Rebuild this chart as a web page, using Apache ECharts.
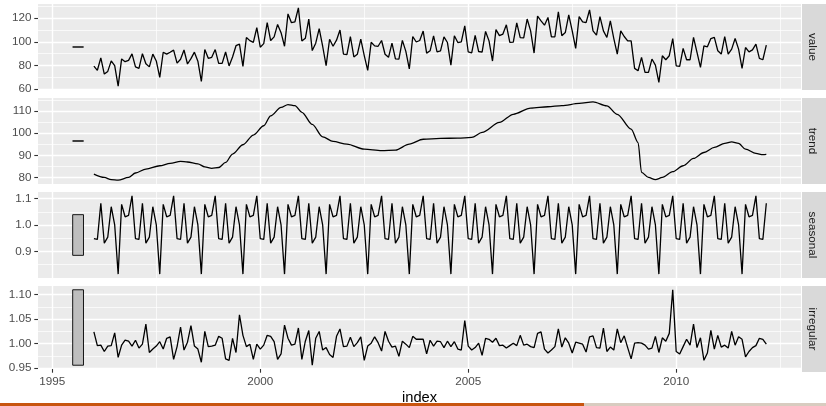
<!DOCTYPE html>
<html>
<head>
<meta charset="utf-8">
<script src="https://cdn.jsdelivr.net/npm/echarts@6/dist/echarts.min.js"></script>
<style>
  html, body { margin: 0; padding: 0; background: #fff; }
  #chart { width: 826px; height: 406px; }
</style>
</head>
<body>
<div id="chart"></div>
<script>
/* ------------------------------------------------------------
 * Monthly decomposition: value / trend / seasonal / irregular
 * series runs Jan 1996 - Mar 2012
------------------------------------------------------------ */
const startYear = 1996

// observed series
const value = [
  79.43, 75.86, 86.40, 72.67, 74.93, 83.88, 79.88, 62.47, 85.50, 83.19, 84.29, 89.79,
  78.72, 77.49, 89.94, 81.35, 78.76, 89.59, 83.75, 69.87, 91.18, 89.52, 91.12, 92.97,
  81.97, 85.26, 93.09, 81.19, 85.74, 91.24, 83.56, 66.45, 93.45, 86.03, 86.91, 93.42,
  81.68, 81.68, 91.35, 79.55, 87.08, 96.71, 98.10, 79.22, 103.68, 101.00, 99.52, 111.94,
  95.42, 98.49, 116.37, 101.09, 104.20, 114.79, 107.75, 96.23, 123.65, 116.24, 117.00, 128.75,
  100.69, 102.99, 119.21, 92.56, 98.86, 111.26, 96.25, 79.81, 102.18, 96.28, 101.38, 109.97,
  89.66, 89.23, 104.36, 87.17, 89.43, 102.25, 88.26, 75.73, 99.60, 96.57, 96.22, 101.12,
  89.45, 86.87, 98.94, 85.62, 85.31, 101.22, 91.93, 77.01, 104.50, 99.83, 101.10, 109.16,
  90.4, 92.4, 105.1, 91.5, 92.4, 104.2, 99.4, 80.3, 105.1, 99.4, 100.0, 113.5,
  91.4, 90.7, 105.5, 91.8, 91.2, 108.8, 100.8, 83.7, 110.4, 105.3, 106.6, 114.4,
  99.5, 99.8, 116.0, 103.5, 103.4, 119.3, 109.3, 90.5, 121.8, 117.7, 114.1, 120.7,
  104.2, 104.3, 125.4, 105.2, 107.9, 122.9, 109.3, 94.4, 121.4, 116.9, 116.3, 127.0,
  109.3, 105.6, 121.4, 109.3, 103.7, 117.7, 102.8, 89.6, 109.3, 104.5, 100.8, 100.8,
  77.5, 75.5, 86.8, 74.1, 74.1, 85.4, 80.3, 65.6, 88.2, 84.8, 88.2, 102.8,
  79.7, 79.2, 94.4, 84.8, 84.8, 103.7, 91.0, 78.3, 96.6, 95.8, 102.8, 103.7,
  92.4, 89.6, 104.5, 89.6, 93.8, 102.8, 93.8, 77.5, 95.2, 91.5, 93.2, 98.0,
  85.9, 84.8, 97.2
]

// trend, read at selected months (month index from Jan 1996)
const trendMonth = [
  0, 3, 5, 7, 10, 12, 15, 19, 22, 25, 27, 30, 32, 34, 36, 38, 40, 43, 46, 49,
  51, 54, 56, 58, 60, 63, 66, 69, 73, 78, 83, 87, 91, 95, 100, 105, 109, 112, 117, 121,
  126, 131, 135, 140, 144, 148, 151, 155, 157, 158, 160, 162, 164, 167, 170, 173, 176, 179, 182, 184,
  186, 188, 191, 193, 194
]
const trendValue = [
  81.5, 80.0, 79.0, 78.8, 80.0, 82.0, 83.8, 85.3, 86.4, 87.3, 87.0, 86.1, 84.8, 84.1, 84.5, 86.8, 90.6, 94.8, 99.2, 103.4,
  107.9, 111.7, 113.0, 112.5, 109.5, 104.0, 98.4, 96.3, 95.1, 92.8, 92.1, 92.4, 95.1, 97.3, 97.7, 97.8, 98.1, 100.4, 104.9, 108.6,
  111.4, 112.0, 112.5, 113.5, 114.2, 112.4, 108.6, 101.9, 95.8, 82.3, 80.0, 79.0, 80.0, 82.6, 85.3, 88.6, 91.3, 93.6, 95.4, 96.1,
  95.4, 92.8, 90.9, 90.3, 90.4
]

// seasonal factors Jan..Dec
const seasonalFactor = [0.948, 0.945, 1.082, 0.931, 0.954, 1.069, 1.000, 0.814, 1.078, 1.031, 1.036, 1.110]

// irregular component
const irregular = [
  1.024, 0.996, 0.997, 0.984, 0.995, 0.996, 1.022, 0.972, 0.997, 1.007, 1.005, 0.995,
  1.007, 0.991, 0.999, 1.040, 0.982, 0.989, 0.995, 1.004, 0.989, 1.011, 1.014, 0.968,
  0.994, 1.034, 0.987, 1.003, 1.037, 0.995, 0.989, 0.962, 1.025, 0.994, 0.995, 0.997,
  1.015, 1.011, 0.969, 0.966, 1.011, 0.982, 1.059, 1.017, 0.994, 0.999, 0.968, 0.999,
  0.989, 0.997, 1.017, 1.015, 1.004, 0.968, 0.979, 1.038, 1.011, 0.997, 0.999, 1.032,
  0.968, 1.005, 1.027, 0.956, 1.011, 1.025, 0.987, 0.992, 0.978, 0.972, 1.015, 1.030,
  0.994, 0.995, 1.013, 0.994, 1.002, 1.014, 0.966, 0.995, 1.001, 1.014, 1.002, 0.985,
  1.025, 1.005, 0.993, 0.995, 0.974, 1.005, 0.999, 0.992, 1.015, 1.009, 1.009, 1.009,
  0.979, 1.007, 0.995, 1.005, 1.004, 0.992, 1.005, 0.994, 1.004, 0.989, 0.987, 1.047,
  0.995, 0.987, 0.992, 1.001, 0.976, 1.011, 1.009, 1.003, 1.011, 0.996, 0.997, 0.991,
  0.996, 1.001, 0.996, 1.017, 0.997, 0.999, 0.994, 0.992, 1.021, 1.024, 0.989, 0.981,
  0.987, 0.994, 1.030, 0.993, 1.012, 1.001, 0.981, 1.003, 1.001, 0.999, 0.983, 1.014,
  1.016, 0.992, 0.991, 1.032, 0.984, 0.993, 0.987, 1.030, 1.002, 1.016, 0.992, 0.969,
  1.001, 1.002, 1.001, 0.997, 0.989, 0.991, 1.015, 0.982, 1.012, 1.005, 1.021, 1.110,
  0.984, 0.979, 0.994, 1.009, 0.997, 1.040, 0.992, 1.012, 0.966, 0.981, 1.027, 0.989,
  1.017, 0.993, 0.997, 0.991, 1.025, 0.997, 1.014, 1.009, 0.973, 0.984, 0.992, 0.996,
  1.011, 1.009, 0.999
]

// facet labels and tick labels
const panelNames = ['value', 'trend', 'seasonal', 'irregular']
const xTicks = [1995, 2000, 2005, 2010]
const yTicks = [
  [60, 80, 100, 120],
  [80, 90, 100, 110],
  [0.9, 1.0, 1.1],
  [0.95, 1.00, 1.05, 1.10]
]
const yDigits = [0, 0, 1, 2]

// range bar position (years)
const barLeft = 1995.49
const barRight = 1995.75

/* ---------------- derived series ---------------- */
const toYear = i => startYear + i / 12
const seriesData = [
  value.map((v, i) => [toYear(i), v]),
  trendMonth.map((m, i) => [toYear(m), trendValue[i]]),
  value.map((v, i) => [toYear(i), seasonalFactor[i % 12]]),
  irregular.map((v, i) => [toYear(i), v])
]

// ggplot style 5% expansion
const expand = (lo, hi) => {
  const pad = (hi - lo) * 0.05
  return [lo - pad, hi + pad]
}
const ranges = seriesData.map(d => {
  const ys = d.map(p => p[1])
  return [Math.min(...ys), Math.max(...ys)]
})
// all range bars share the length of the narrowest panel
const barHalf = Math.min(...ranges.map(r => r[1] - r[0])) / 2
const xExtent = expand(barLeft, toYear(value.length - 1))

/* ---------------- layout ---------------- */
const font = 'Liberation Sans, Arial, sans-serif'
const panelLeft = 38
const panelWidth = 763
const panelTop = [4, 98, 192, 286]
const panelHeight = 86
const splitNumbers = [4, 4, 3, 3]

const grids = []
const xAxes = []
const yAxes = []
const series = []
const graphics = []

panelNames.forEach((name, k) => {
  const isBottom = k === panelNames.length - 1
  const yExt = expand(ranges[k][0], ranges[k][1])
  const mid = (ranges[k][0] + ranges[k][1]) / 2

  grids.push({
    left: panelLeft, width: panelWidth, top: panelTop[k], height: panelHeight,
    show: true, backgroundColor: '#EBEBEB', borderWidth: 0
  })

  xAxes.push({
    gridIndex: k, type: 'value', min: xExtent[0], max: xExtent[1], splitNumber: 4,
    axisLine: { show: false },
    axisTick: { show: isBottom, length: 3.7, customValues: xTicks, lineStyle: { color: '#333333', width: 1.1 } },
    axisLabel: {
      show: isBottom, customValues: xTicks, color: '#4D4D4D', fontSize: 11.7, fontFamily: font, margin: 7,
      formatter: v => String(Math.round(v))
    },
    splitLine: { show: true, lineStyle: { color: '#FFFFFF', width: 1.4 } },
    minorTick: { show: false, splitNumber: 2 },
    minorSplitLine: { show: true, lineStyle: { color: '#FFFFFF', width: 0.7 } },
    name: isBottom ? 'index' : '',
    nameLocation: 'middle', nameGap: 21,
    nameTextStyle: { color: '#000000', fontSize: 14.7, fontFamily: font }
  })

  yAxes.push({
    gridIndex: k, type: 'value', min: yExt[0], max: yExt[1], splitNumber: splitNumbers[k],
    axisLine: { show: false },
    axisTick: { show: true, length: 3.7, customValues: yTicks[k], lineStyle: { color: '#333333', width: 1.1 } },
    axisLabel: {
      customValues: yTicks[k], color: '#4D4D4D', fontSize: 11.7, fontFamily: font, margin: 6.5,
      formatter: v => Number(v).toFixed(yDigits[k])
    },
    splitLine: { show: true, lineStyle: { color: '#FFFFFF', width: 1.4 } },
    minorTick: { show: false, splitNumber: 2 },
    minorSplitLine: { show: true, lineStyle: { color: '#FFFFFF', width: 0.7 } }
  })

  series.push({
    type: 'line', name: name, xAxisIndex: k, yAxisIndex: k,
    data: seriesData[k], showSymbol: false, symbol: 'none',
    smooth: name === 'trend' ? 0.3 : false, smoothMonotone: 'x',
    lineStyle: { color: '#000000', width: 1.3 }, z: 3
  })

  // range bar
  series.push({
    type: 'custom', xAxisIndex: k, yAxisIndex: k, z: 3,
    encode: { x: [0, 1], y: [2, 3] },
    data: [[barLeft, barRight, mid - barHalf, mid + barHalf]],
    renderItem (params, api) {
      const p0 = api.coord([api.value(0), api.value(3)])
      const p1 = api.coord([api.value(1), api.value(2)])
      return {
        type: 'rect',
        shape: { x: p0[0], y: p0[1], width: p1[0] - p0[0], height: p1[1] - p0[1] },
        style: { fill: '#BEBEBE', stroke: '#000000', lineWidth: 0.9 }
      }
    }
  })

  // facet strip on the right
  graphics.push({
    type: 'rect', left: panelLeft + panelWidth + 1, top: panelTop[k],
    shape: { width: 26, height: panelHeight }, style: { fill: '#D9D9D9' }
  })
  graphics.push({
    type: 'text', x: 812.5, y: panelTop[k] + panelHeight / 2, rotation: -Math.PI / 2,
    style: {
      text: name, fill: '#1A1A1A', fontSize: 11.7, fontFamily: font,
      textAlign: 'center', textVerticalAlign: 'middle'
    }
  })
})

// strip along the bottom edge of the picture
graphics.push({ type: 'rect', left: 0, top: 403, shape: { width: 584, height: 3 }, style: { fill: '#C8550F' }, z: 100 })
graphics.push({ type: 'rect', left: 584, top: 403, shape: { width: 242, height: 3 }, style: { fill: '#D8CCC0' }, z: 100 })

const chart = echarts.init(document.getElementById('chart'), null, { renderer: 'canvas' })
chart.setOption({
  animation: false,
  backgroundColor: '#FFFFFF',
  grid: grids,
  xAxis: xAxes,
  yAxis: yAxes,
  series: series,
  graphic: graphics
})
</script>
</body>
</html>
